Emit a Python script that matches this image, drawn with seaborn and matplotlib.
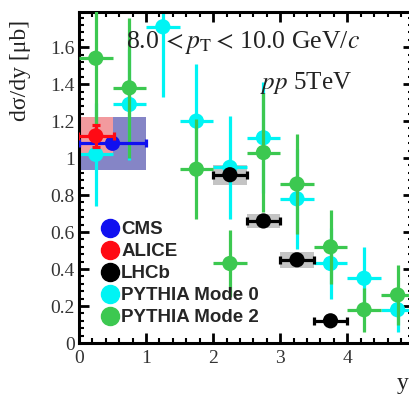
import numpy as np
import pandas as pd
import matplotlib
matplotlib.use("Agg")
import matplotlib.pyplot as plt
from matplotlib.patches import Rectangle
from matplotlib.lines import Line2D
from matplotlib.ticker import MultipleLocator, FormatStrFormatter
import seaborn as sns

# ---------------- data ----------------
cms_x = [0.5]; cms_y = [1.08]; cms_xerr = [0.5]
cms_sys_lo = [0.935]; cms_sys_hi = [1.22]; cms_box_x0 = [0.0]; cms_box_x1 = [1.0]

alice_x = [0.25]; alice_y = [1.12]; alice_xerr = [0.27]; alice_yerr = [0.06]
alice_sys_lo = [1.03]; alice_sys_hi = [1.22]; alice_box_x0 = [0.0]; alice_box_x1 = [0.5]

lhcb_x = [2.25, 2.75, 3.25, 3.75]
lhcb_y = [0.91, 0.66, 0.45, 0.12]
lhcb_xerr = [0.25, 0.25, 0.25, 0.25]
lhcb_sys = [0.055, 0.04, 0.043, 0.0]

p0_x = [0.25, 0.75, 1.25, 1.75, 2.25, 2.75, 3.25, 3.75, 4.25, 4.75]
p0_y = [1.02, 1.29, 1.71, 1.20, 0.95, 1.11, 0.78, 0.43, 0.35, 0.18]
p0_yerr = [0.28, 0.30, 0.38, 0.31, 0.28, 0.30, 0.27, 0.19, 0.17, 0.12]

p2_x = [0.25, 0.75, 1.75, 2.25, 2.75, 3.25, 3.75, 4.25, 4.75]
p2_y = [1.54, 1.38, 0.94, 0.43, 1.03, 0.86, 0.52, 0.18, 0.26]
p2_yerr = [0.40, 0.38, 0.27, 0.18, 0.32, 0.27, 0.20, 0.12, 0.16]

legend_labels = ["CMS", "ALICE", "LHCb", "PYTHIA Mode 0", "PYTHIA Mode 2"]

C_BLUE = "#1010f0"; C_RED = "#ff0a14"; C_BLACK = "#000000"
C_CYAN = "#00f4f4"; C_GREEN = "#3cc850"

# ---------------- figure ----------------
sns.set_theme(style="ticks")
plt.rcParams["font.family"] = ["Liberation Serif", "DejaVu Serif"]
plt.rcParams["mathtext.fontset"] = "stix"

fig = plt.figure(figsize=(4.10, 3.97), dpi=100)
ax = fig.add_axes([79/410, 54/397, 334/410, 331/397])
ax.set_xlim(0, 4.98)
ax.set_ylim(0, 1.79)

# systematic boxes
ax.add_patch(Rectangle((cms_box_x0[0], cms_sys_lo[0]), cms_box_x1[0]-cms_box_x0[0],
                       cms_sys_hi[0]-cms_sys_lo[0], color="#8585c6", lw=0, zorder=1))
ax.add_patch(Rectangle((alice_box_x0[0], alice_sys_lo[0]), alice_box_x1[0]-alice_box_x0[0],
                       alice_sys_hi[0]-alice_sys_lo[0], color="#f29a9e", lw=0, zorder=1.1))
for x, y, s, xe in zip(lhcb_x, lhcb_y, lhcb_sys, lhcb_xerr):
    if s > 0:
        ax.add_patch(Rectangle((x - xe, y - s), 2*xe, 2*s, color="#c4c4c4", lw=0, zorder=1))

df0 = pd.DataFrame({"x": p0_x, "y": p0_y})
df2 = pd.DataFrame({"x": p2_x, "y": p2_y})
dl = pd.DataFrame({"x": lhcb_x, "y": lhcb_y})
dc = pd.DataFrame({"x": cms_x, "y": cms_y})
da = pd.DataFrame({"x": alice_x, "y": alice_y})

ms = 120
# PYTHIA mode 0
ax.errorbar(p0_x, p0_y, yerr=p0_yerr, xerr=0.25, fmt="none", ecolor=C_CYAN, elinewidth=2.3, capsize=0, zorder=2)
sns.scatterplot(data=df0, x="x", y="y", ax=ax, color=C_CYAN, s=ms, edgecolor="none", zorder=2.1, legend=False)
# PYTHIA mode 2
ax.errorbar(p2_x, p2_y, yerr=p2_yerr, xerr=0.25, fmt="none", ecolor=C_GREEN, elinewidth=2.3, capsize=0, zorder=3)
sns.scatterplot(data=df2, x="x", y="y", ax=ax, color=C_GREEN, s=ms, edgecolor="none", zorder=3.1, legend=False)
# LHCb
ax.errorbar(lhcb_x, lhcb_y, xerr=lhcb_xerr, fmt="none", ecolor=C_BLACK, elinewidth=2.3, capsize=3, capthick=2.3, zorder=4)
sns.scatterplot(data=dl, x="x", y="y", ax=ax, color=C_BLACK, s=ms, edgecolor="none", zorder=4.1, legend=False)
# CMS
ax.errorbar(cms_x, cms_y, xerr=cms_xerr, fmt="none", ecolor=C_BLUE, elinewidth=2.3, capsize=3, capthick=2.3, zorder=4)
sns.scatterplot(data=dc, x="x", y="y", ax=ax, color=C_BLUE, s=ms, edgecolor="none", zorder=4.1, legend=False)
# ALICE
ax.errorbar(alice_x, alice_y, xerr=alice_xerr, yerr=alice_yerr, fmt="none", ecolor=C_RED, elinewidth=2.3, capsize=3, capthick=2.3, zorder=4.2)
sns.scatterplot(data=da, x="x", y="y", ax=ax, color=C_RED, s=ms, edgecolor="none", zorder=4.3, legend=False)

ax.set_xlabel(""); ax.set_ylabel("")

# ticks ROOT-style
for sp in ax.spines.values():
    sp.set_linewidth(2.2); sp.set_color("black")
ax.xaxis.set_major_locator(MultipleLocator(1))
ax.xaxis.set_minor_locator(MultipleLocator(0.2))
ax.yaxis.set_major_locator(MultipleLocator(0.2))
ax.yaxis.set_minor_locator(MultipleLocator(0.04))
ax.yaxis.set_major_formatter(FormatStrFormatter("%g"))
ax.xaxis.set_major_formatter(FormatStrFormatter("%g"))
ax.tick_params(which="both", direction="in", top=True, right=True, colors="black")
ax.tick_params(which="major", length=7, width=2.0, labelsize=14)
ax.tick_params(axis="x", which="major", pad=5)
ax.tick_params(axis="y", which="major", pad=3)
ax.tick_params(which="minor", length=3.5, width=1.5)
for lab in ax.get_xticklabels() + ax.get_yticklabels():
    lab.set_color("#333333")

fig.text(21/410, 1 - 70/397, "dσ/dy [μb]", rotation=90, ha="center", va="center", fontsize=17, color="#222222")
fig.text(409/410, 1 - 384/397, "y", ha="right", va="center", fontsize=17, color="#222222")

ax.text((243-79)/334, (343-42)/331, r"8.0$\,<p_{\rm T}<\,$10.0 GeV/$c$", transform=ax.transAxes,
        ha="center", va="center", fontsize=18.5, color="#222222")
ax.text((352-79)/334, (343-83)/331, r"$pp$ 5TeV", transform=ax.transAxes,
        ha="right", va="center", fontsize=18, color="#222222")

handles = [Line2D([], [], marker="o", ls="none", color=c, markersize=13)
           for c in [C_BLUE, C_RED, C_BLACK, C_CYAN, C_GREEN]]
leg = ax.legend(handles, legend_labels, loc="lower left", bbox_to_anchor=(0.07, 0.051),
                frameon=False, handlelength=0.8, handletextpad=0.2, labelspacing=0.26,
                borderaxespad=0, borderpad=0,
                prop={"family": "Liberation Sans", "weight": "bold", "size": 13.5})
leg.set_zorder(10)

fig.savefig("out.png", dpi=100)
